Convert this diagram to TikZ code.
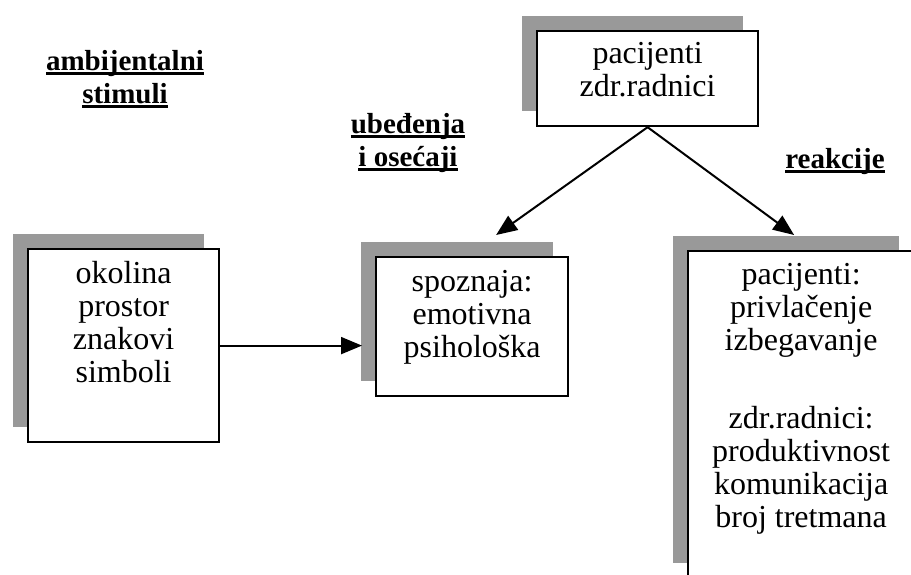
\documentclass[tikz,border=0pt]{standalone}
\usepackage{fontspec}
\setmainfont{Liberation Serif}
\usetikzlibrary{arrows.meta,shadows}

\newcommand{\headul}[1]{\setbox0=\hbox{#1}\rlap{\rule[-4pt]{\wd0}{2.5pt}}\box0}

\begin{document}
\begin{tikzpicture}[
  x=1pt, y=1pt,
  box/.style={draw, line width=2.2pt, fill=white, align=center, inner sep=0pt,
    anchor=north west, font=\fontsize{32}{33}\selectfont,
    general shadow={fill=black!40, shadow xshift=-15pt, shadow yshift=15pt}},
  heading/.style={align=center, anchor=base, font=\bfseries\fontsize{29}{33}\selectfont},
  conn/.style={line width=2pt, -{Triangle[length=21pt,width=17pt]}}
]
\useasboundingbox (0,0) rectangle (911,-575);
\clip (0,0) rectangle (911,-575);

\node[heading] (stimh) at (125,-104) {\headul{ambijentalni}\\\headul{stimuli}};
\node[heading] (beliefh) at (408,-167) {\headul{ubeđenja}\\\headul{i osećaji}};
\node[heading] (reacth) at (835,-169) {\headul{reakcije}};

\node[box, minimum width=221pt, text height=65pt, text depth=30pt] (staff) at (536,-30)
  {pacijenti\\zdr.radnici};
\node[box, minimum width=191pt, text height=133pt, text depth=60pt] (env) at (27,-248)
  {okolina\\prostor\\znakovi\\simboli};
\node[box, minimum width=192pt, text height=100pt, text depth=39pt] (belief) at (375,-256)
  {spoznaja:\\emotivna\\psihološka};
\node[box, minimum width=226pt, text height=276pt, text depth=51pt] (react) at (687,-250)
  {pacijenti:\\privlačenje\\izbegavanje\\[45pt]zdr.radnici:\\produktivnost\\komunikacija\\broj tretmana};

\draw[conn] (env.east) -- (env.east -| belief.west) [shorten >=13pt];
\draw[conn] (staff.south) -- ([xshift=24pt,yshift=21pt]belief.north);
\draw[conn] (staff.south) -- ([xshift=-7pt,yshift=15pt]react.north);

\end{tikzpicture}
\end{document}
